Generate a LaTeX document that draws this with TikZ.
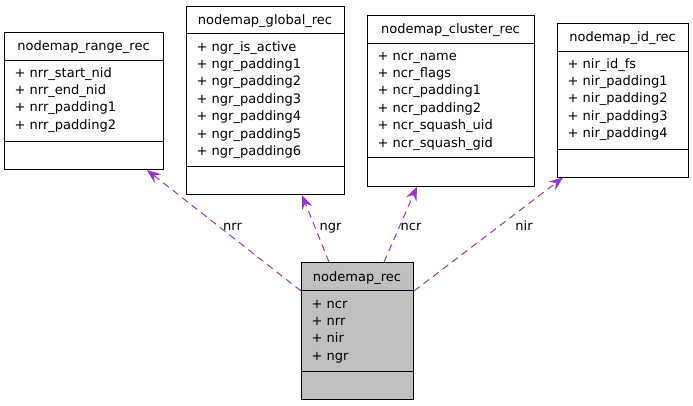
\documentclass[tikz,border=0pt]{standalone}
\usepackage{fontspec}
\setmainfont{DejaVu Sans}
\usetikzlibrary{arrows.meta,calc}
\definecolor{edgecol}{HTML}{9A32CD}
\definecolor{recfill}{HTML}{BFBFBF}
\tikzset{
  umlbox/.style={draw=black, line width=1pt, rectangle, inner sep=0pt, anchor=north west},
  seprule/.style={draw=black, line width=1pt},
  titletext/.style={anchor=base, inner sep=0pt},
  attrtext/.style={anchor=base west, inner sep=0pt},
  reledge/.style={draw=edgecol, line width=1pt, dash pattern=on 7pt off 5pt,
    -{Stealth[length=14pt,width=11pt,inset=5pt]}},
  edgelabel/.style={anchor=base, inner sep=0pt},
}
\begin{document}
\begin{tikzpicture}[x=1pt,y=-1pt,font=\fontsize{13}{17.4}\selectfont]
\useasboundingbox (0,0) rectangle (693,405);
% nodemap_range_rec
\node[umlbox, minimum width=159pt, minimum height=137pt] (range) at (4,32) {};
\draw[seprule] (4,60) -- (163,60);
\draw[seprule] (4,141) -- (163,141);
\node[titletext] (rangeT) at (83.5,50) {nodemap\_range\_rec};
\foreach \t [count=\i] in {nrr\_start\_nid, nrr\_end\_nid, nrr\_padding1, nrr\_padding2}
  \node[attrtext] (rangeA\i) at (14.5,59.6+17.4*\i) {+ \t};
% nodemap_global_rec
\node[umlbox, minimum width=158pt, minimum height=188pt] (global) at (186,6) {};
\draw[seprule] (186,33.5) -- (344,33.5);
\draw[seprule] (186,166.5) -- (344,166.5);
\node[titletext] (globalT) at (265,24) {nodemap\_global\_rec};
\foreach \t [count=\i] in {ngr\_is\_active, ngr\_padding1, ngr\_padding2, ngr\_padding3, ngr\_padding4, ngr\_padding5, ngr\_padding6}
  \node[attrtext] (globalA\i) at (196.5,33.6+17.4*\i) {+ \t};
% nodemap_cluster_rec
\node[umlbox, minimum width=167pt, minimum height=170.5pt] (cluster) at (367,15) {};
\draw[seprule] (367,43) -- (534,43);
\draw[seprule] (367,157.5) -- (534,157.5);
\node[titletext] (clusterT) at (450.5,33) {nodemap\_cluster\_rec};
\foreach \t [count=\i] in {ncr\_name, ncr\_flags, ncr\_padding1, ncr\_padding2, ncr\_squash\_uid, ncr\_squash\_gid}
  \node[attrtext] (clusterA\i) at (377.5,42.6+17.4*\i) {+ \t};
% nodemap_id_rec
\node[umlbox, minimum width=131pt, minimum height=153.5pt] (idrec) at (557,23) {};
\draw[seprule] (557,51) -- (688,51);
\draw[seprule] (557,149) -- (688,149);
\node[titletext] (idrecT) at (622.5,41) {nodemap\_id\_rec};
\foreach \t [count=\i] in {nir\_id\_fs, nir\_padding1, nir\_padding2, nir\_padding3, nir\_padding4}
  \node[attrtext] (idrecA\i) at (567.5,50.6+17.4*\i) {+ \t};
% nodemap_rec
\node[umlbox, fill=recfill, minimum width=112pt, minimum height=136.5pt] (rec) at (301,262) {};
\draw[seprule] (301,290.5) -- (413,290.5);
\draw[seprule] (301,371) -- (413,371);
\node[titletext] (recT) at (357,281) {nodemap\_rec};
\foreach \t [count=\i] in {ncr, nrr, nir, ngr}
  \node[attrtext] (recA\i) at (311.5,290.6+17.4*\i) {+ \t};
% connectors
\draw[reledge] ($(rec.north west)+(0,29)$) -- ($(range.south west)+(143,0)$);
\draw[reledge] ($(rec.north west)+(28,0)$) -- ($(global.south west)+(116,0)$);
\draw[reledge] ($(rec.north west)+(83,0)$) -- ($(cluster.south west)+(50,0)$);
\draw[reledge] ($(rec.north east)+(0,29)$) -- ($(idrec.south west)+(6,0)$);
\node[edgelabel] (lnrr) at (232.5,230.5) {nrr};
\node[edgelabel] (lngr) at (330.5,230.5) {ngr};
\node[edgelabel] (lncr) at (411,230.5) {ncr};
\node[edgelabel] (lnir) at (524,230.5) {nir};
\end{tikzpicture}
\end{document}
